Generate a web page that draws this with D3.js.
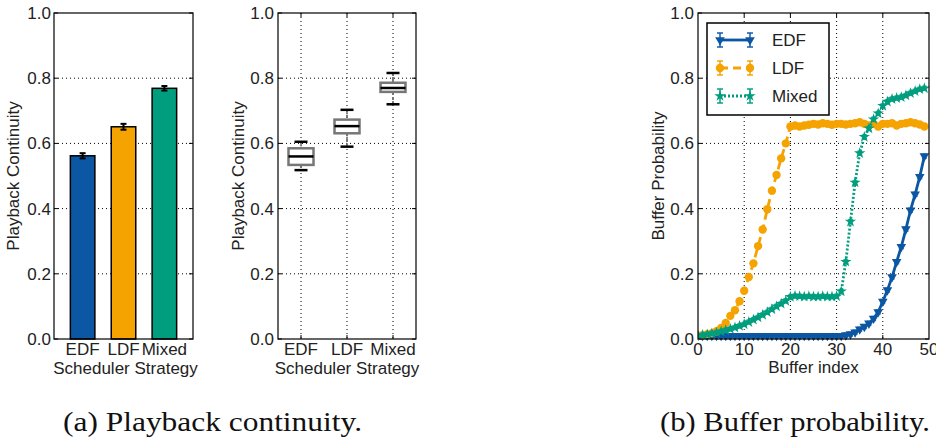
<!DOCTYPE html>
<html>
<head>
<meta charset="utf-8">
<script src="https://cdn.jsdelivr.net/npm/d3@7"></script>
<style>
  body { margin: 0; background: #fff; }
  text { font-family: "Liberation Sans", Arial, sans-serif; }
  text.caption { font-family: "Liberation Serif", "DejaVu Serif", serif; }
</style>
</head>
<body>
<svg id="chart" width="936" height="447"></svg>
<script>
// ---- data ----
const strategies = ["EDF", "LDF", "Mixed"];
const strategyColors = ["#0b57a4", "#f5a300", "#009e7e"];

const continuityMean = [0.562, 0.651, 0.769];
const continuityErr = [0.008, 0.009, 0.007];

const boxLow = [0.518, 0.590, 0.720];
const boxQ1 = [0.534, 0.631, 0.758];
const boxMedian = [0.560, 0.653, 0.770];
const boxQ3 = [0.585, 0.673, 0.786];
const boxHigh = [0.605, 0.703, 0.816];

const edfProb = [0.010, 0.010, 0.010, 0.010, 0.010, 0.010, 0.010, 0.010, 0.010, 0.010,
  0.010, 0.010, 0.010, 0.010, 0.010, 0.010, 0.010, 0.010, 0.010, 0.010,
  0.010, 0.010, 0.010, 0.010, 0.010, 0.010, 0.010, 0.010, 0.010, 0.010,
  0.010, 0.010, 0.012, 0.015, 0.021, 0.030, 0.038, 0.048, 0.063, 0.083,
  0.115, 0.150, 0.190, 0.237, 0.283, 0.337, 0.395, 0.444, 0.498, 0.561];
const ldfProb = [0.011, 0.012, 0.015, 0.018, 0.024, 0.034, 0.049, 0.071, 0.088, 0.116,
  0.148, 0.190, 0.232, 0.285, 0.336, 0.398, 0.455, 0.503, 0.554, 0.600,
  0.652, 0.655, 0.652, 0.655, 0.657, 0.660, 0.658, 0.662, 0.660, 0.657,
  0.660, 0.660, 0.658, 0.660, 0.662, 0.665, 0.660, 0.655, 0.660, 0.652,
  0.660, 0.660, 0.662, 0.655, 0.660, 0.662, 0.665, 0.662, 0.658, 0.652];
const mixedProb = [0.010, 0.012, 0.014, 0.017, 0.020, 0.023, 0.027, 0.031, 0.035, 0.040,
  0.045, 0.052, 0.059, 0.066, 0.074, 0.082, 0.091, 0.100, 0.108, 0.117,
  0.129, 0.132, 0.131, 0.130, 0.131, 0.130, 0.130, 0.131, 0.130, 0.130,
  0.131, 0.146, 0.237, 0.360, 0.480, 0.570, 0.620, 0.646, 0.674, 0.692,
  0.715, 0.728, 0.736, 0.739, 0.742, 0.747, 0.754, 0.760, 0.766, 0.769];
const probErr = 0.006;

const yTicks = [0, 0.2, 0.4, 0.6, 0.8, 1.0];
const bufferTicks = [0, 10, 20, 30, 40, 50];

// ---- layout ----
const svg = d3.select("#chart");
const plotTop = 13, plotBottom = 339;
const fontSize = 17;

const y = d3.scaleLinear().domain([0, 1]).range([plotBottom, plotTop]);

function frame(x0, x1, opts) {
  const g = svg.append("g");
  // horizontal grid
  g.selectAll(".hgrid")
    .data(yTicks.slice(1, -1))
    .join("line")
      .attr("x1", x0).attr("x2", x1)
      .attr("y1", d => y(d)).attr("y2", d => y(d))
      .attr("stroke", "#000").attr("stroke-width", 1)
      .attr("stroke-dasharray", "1,3");
  if (opts.vgrid) {
    g.selectAll(".vgrid")
      .data(opts.vgrid)
      .join("line")
        .attr("x1", d => d).attr("x2", d => d)
        .attr("y1", plotTop).attr("y2", plotBottom)
        .attr("stroke", "#000").attr("stroke-width", 1)
        .attr("stroke-dasharray", "1,3");
  }
  // inward ticks on left/right
  yTicks.forEach(t => {
    g.append("line").attr("x1", x0).attr("x2", x0 + 4)
      .attr("y1", y(t)).attr("y2", y(t)).attr("stroke", "#000");
    g.append("line").attr("x1", x1).attr("x2", x1 - 4)
      .attr("y1", y(t)).attr("y2", y(t)).attr("stroke", "#000");
  });
  if (opts.vgrid) {
    opts.vgrid.forEach(t => {
      g.append("line").attr("x1", t).attr("x2", t)
        .attr("y1", plotTop).attr("y2", plotTop + 4).attr("stroke", "#000");
      g.append("line").attr("x1", t).attr("x2", t)
        .attr("y1", plotBottom).attr("y2", plotBottom - 4).attr("stroke", "#000");
    });
  }
  // y tick labels
  g.selectAll(".ylab")
    .data(yTicks)
    .join("text")
      .attr("x", x0 - opts.pad)
      .attr("y", d => y(d))
      .attr("dy", "0.35em")
      .attr("text-anchor", "end")
      .attr("font-size", fontSize)
      .attr("fill", "#222")
      .text(d3.format(".1f"));
  // y label
  g.append("text")
    .attr("transform", `translate(${opts.ylabX},${(plotTop + plotBottom) / 2}) rotate(-90)`)
    .attr("text-anchor", "middle")
    .attr("dy", "0.35em")
    .attr("font-size", fontSize)
    .attr("fill", "#222")
    .text(opts.ylabel);
  // x label
  g.append("text")
    .attr("x", (x0 + x1) / 2 + (opts.xlabShift || 0))
    .attr("y", opts.xlabY)
    .attr("text-anchor", "middle")
    .attr("font-size", fontSize)
    .attr("fill", "#222")
    .text(opts.xlabel);
  return g;
}

function drawSpines(x0, x1) {
  svg.append("rect")
    .attr("x", x0).attr("y", plotTop)
    .attr("width", x1 - x0).attr("height", plotBottom - plotTop)
    .attr("fill", "none").attr("stroke", "#000").attr("stroke-width", 1.2);
}

// ---- (a) left: bar chart ----
{
  const x0 = 54, x1 = 193;
  const x = d3.scaleBand().domain(strategies).range([x0, x1]).padding(0.4);
  frame(x0, x1, { pad: 3, ylabX: 13, ylabel: "Playback Continuity", xlabel: "Scheduler Strategy", xlabY: 374, xlabShift: 2 });

  svg.selectAll(".bar")
    .data(strategies)
    .join("rect")
      .attr("x", d => x(d))
      .attr("y", (d, i) => y(continuityMean[i]))
      .attr("width", x.bandwidth())
      .attr("height", (d, i) => y(0) - y(continuityMean[i]))
      .attr("fill", (d, i) => strategyColors[i])
      .attr("stroke", "#000")
      .attr("stroke-width", 1.5);

  const eb = svg.selectAll(".eb")
    .data(strategies)
    .join("g");
  eb.append("line")
    .attr("x1", d => x(d) + x.bandwidth() / 2).attr("x2", d => x(d) + x.bandwidth() / 2)
    .attr("y1", (d, i) => y(continuityMean[i] - continuityErr[i]))
    .attr("y2", (d, i) => y(continuityMean[i] + continuityErr[i]))
    .attr("stroke", "#000").attr("stroke-width", 2);
  [-1, 1].forEach(s => {
    eb.append("line")
      .attr("x1", d => x(d) + x.bandwidth() / 2 - 3).attr("x2", d => x(d) + x.bandwidth() / 2 + 3)
      .attr("y1", (d, i) => y(continuityMean[i] + s * continuityErr[i]))
      .attr("y2", (d, i) => y(continuityMean[i] + s * continuityErr[i]))
      .attr("stroke", "#000").attr("stroke-width", 2);
  });

  svg.selectAll(".xlab1")
    .data(strategies)
    .join("text")
      .attr("x", d => x(d) + x.bandwidth() / 2)
      .attr("y", 355)
      .attr("text-anchor", "middle")
      .attr("font-size", fontSize)
      .attr("fill", "#222")
      .text(d => d);
  drawSpines(x0, x1);
}

// ---- (a) right: box plot ----
{
  const x0 = 278, x1 = 416;
  const x = d3.scalePoint().domain(strategies).range([x0, x1]).padding(0.5);
  frame(x0, x1, { pad: 4, ylabX: 238, ylabel: "Playback Continuity", xlabel: "Scheduler Strategy", xlabY: 374, vgrid: strategies.map(d => x(d)) });

  const bw = 25, cw = 13;
  const box = svg.selectAll(".box")
    .data(strategies)
    .join("g");
  // whiskers
  box.append("line")
    .attr("x1", d => x(d)).attr("x2", d => x(d))
    .attr("y1", (d, i) => y(boxHigh[i])).attr("y2", (d, i) => y(boxQ3[i]))
    .attr("stroke", "#777").attr("stroke-width", 2).attr("stroke-dasharray", "3,2");
  box.append("line")
    .attr("x1", d => x(d)).attr("x2", d => x(d))
    .attr("y1", (d, i) => y(boxQ1[i])).attr("y2", (d, i) => y(boxLow[i]))
    .attr("stroke", "#777").attr("stroke-width", 2).attr("stroke-dasharray", "3,2");
  box.append("rect")
    .attr("x", d => x(d) - bw / 2)
    .attr("y", (d, i) => y(boxQ3[i]))
    .attr("width", bw)
    .attr("height", (d, i) => y(boxQ1[i]) - y(boxQ3[i]))
    .attr("fill", "#fff").attr("stroke", "#777").attr("stroke-width", 2.5);
  box.append("line")
    .attr("x1", d => x(d) - bw / 2).attr("x2", d => x(d) + bw / 2)
    .attr("y1", (d, i) => y(boxMedian[i])).attr("y2", (d, i) => y(boxMedian[i]))
    .attr("stroke", "#000").attr("stroke-width", 2.5);
  [boxLow, boxHigh].forEach(arr => {
    box.append("line")
      .attr("x1", d => x(d) - cw / 2).attr("x2", d => x(d) + cw / 2)
      .attr("y1", (d, i) => y(arr[i])).attr("y2", (d, i) => y(arr[i]))
      .attr("stroke", "#000").attr("stroke-width", 2.5);
  });

  svg.selectAll(".xlab2")
    .data(strategies)
    .join("text")
      .attr("x", d => x(d))
      .attr("y", 355)
      .attr("text-anchor", "middle")
      .attr("font-size", fontSize)
      .attr("fill", "#222")
      .text(d => d);
  drawSpines(x0, x1);
}

// ---- (b) buffer probability ----
{
  const x0 = 698, x1 = 929;
  const x = d3.scaleLinear().domain([0, 50]).range([x0, x1]);
  frame(x0, x1, { pad: 4, ylabX: 658, ylabel: "Buffer Probability", xlabel: "Buffer index", xlabY: 373, vgrid: bufferTicks.slice(1, -1).map(x) });

  svg.selectAll(".xlab3")
    .data(bufferTicks)
    .join("text")
      .attr("x", d => x(d))
      .attr("y", 355)
      .attr("text-anchor", "middle")
      .attr("font-size", fontSize)
      .attr("fill", "#222")
      .text(d => d);

  const series = [
    { name: "EDF", values: edfProb, color: strategyColors[0], dash: null, marker: "tri" },
    { name: "LDF", values: ldfProb, color: strategyColors[1], dash: "8,5", marker: "circle" },
    { name: "Mixed", values: mixedProb, color: strategyColors[2], dash: "2,2", marker: "star" }
  ];

  const line = d3.line().x((d, i) => x(i)).y(d => y(d));
  svg.append("clipPath").attr("id", "plotclip")
    .append("rect").attr("x", x0).attr("y", plotTop - 5).attr("width", x1 - x0 + 6).attr("height", plotBottom - plotTop + 10);

  function marker(g, s, cx, cy) {
    if (s.marker === "circle") {
      g.append("circle").attr("cx", cx).attr("cy", cy).attr("r", 4.2).attr("fill", s.color);
    } else if (s.marker === "tri") {
      g.append("path")
        .attr("d", d3.symbol(d3.symbolTriangle, 40)())
        .attr("transform", `translate(${cx},${cy}) rotate(180)`)
        .attr("fill", s.color);
    } else {
      g.append("path")
        .attr("d", d3.symbol(d3.symbolStar, 40)())
        .attr("transform", `translate(${cx},${cy})`)
        .attr("fill", s.color);
    }
  }

  series.forEach(s => {
    const g = svg.append("g").attr("clip-path", "url(#plotclip)");
    g.append("path")
      .datum(s.values)
      .attr("d", line)
      .attr("fill", "none")
      .attr("stroke", s.color)
      .attr("stroke-width", 2.8)
      .attr("stroke-dasharray", s.dash);
    s.values.forEach((v, i) => {
      const cx = x(i);
      g.append("line").attr("x1", cx).attr("x2", cx)
        .attr("y1", y(v - probErr)).attr("y2", y(v + probErr))
        .attr("stroke", s.color).attr("stroke-opacity", 0.8).attr("stroke-width", 1.5);
      [-1, 1].forEach(k => {
        g.append("line").attr("x1", cx - 2.5).attr("x2", cx + 2.5)
          .attr("y1", y(v + k * probErr)).attr("y2", y(v + k * probErr))
          .attr("stroke", s.color).attr("stroke-opacity", 0.8).attr("stroke-width", 1.5);
      });
      marker(g, s, cx, y(v));
    });
  });

  drawSpines(x0, x1);

  // legend
  const lg = svg.append("g");
  lg.append("rect")
    .attr("x", 707).attr("y", 23).attr("width", 122).attr("height", 92)
    .attr("fill", "#fff").attr("stroke", "#000").attr("stroke-width", 1.5);
  series.forEach((s, k) => {
    const ly = 40 + k * 28;
    const lx0 = 720, lx1 = 750;
    lg.append("line").attr("x1", lx0).attr("x2", lx1).attr("y1", ly).attr("y2", ly)
      .attr("stroke", s.color).attr("stroke-width", 2.8).attr("stroke-dasharray", s.dash);
    [lx0, lx1].forEach(cx => {
      lg.append("line").attr("x1", cx).attr("x2", cx).attr("y1", ly - 7).attr("y2", ly + 7)
        .attr("stroke", s.color).attr("stroke-opacity", 0.8).attr("stroke-width", 1.8);
      [-7, 7].forEach(dy => {
        lg.append("line").attr("x1", cx - 3).attr("x2", cx + 3).attr("y1", ly + dy).attr("y2", ly + dy)
          .attr("stroke", s.color).attr("stroke-opacity", 0.8).attr("stroke-width", 1.8);
      });
      marker(lg, s, cx, ly);
    });
    lg.append("text")
      .attr("x", 772).attr("y", ly).attr("dy", "0.35em")
      .attr("font-size", fontSize).attr("fill", "#222")
      .text(s.name);
  });
}

// ---- captions ----
svg.append("text")
  .attr("class", "caption")
  .attr("x", 63).attr("y", 431)
  .attr("font-size", 28)
  .attr("textLength", 299).attr("lengthAdjust", "spacingAndGlyphs")
  .attr("fill", "#111")
  .text("(a) Playback continuity.");
svg.append("text")
  .attr("class", "caption")
  .attr("x", 660).attr("y", 431)
  .attr("font-size", 28)
  .attr("textLength", 270).attr("lengthAdjust", "spacingAndGlyphs")
  .attr("fill", "#111")
  .text("(b) Buffer probability.");
</script>
</body>
</html>
